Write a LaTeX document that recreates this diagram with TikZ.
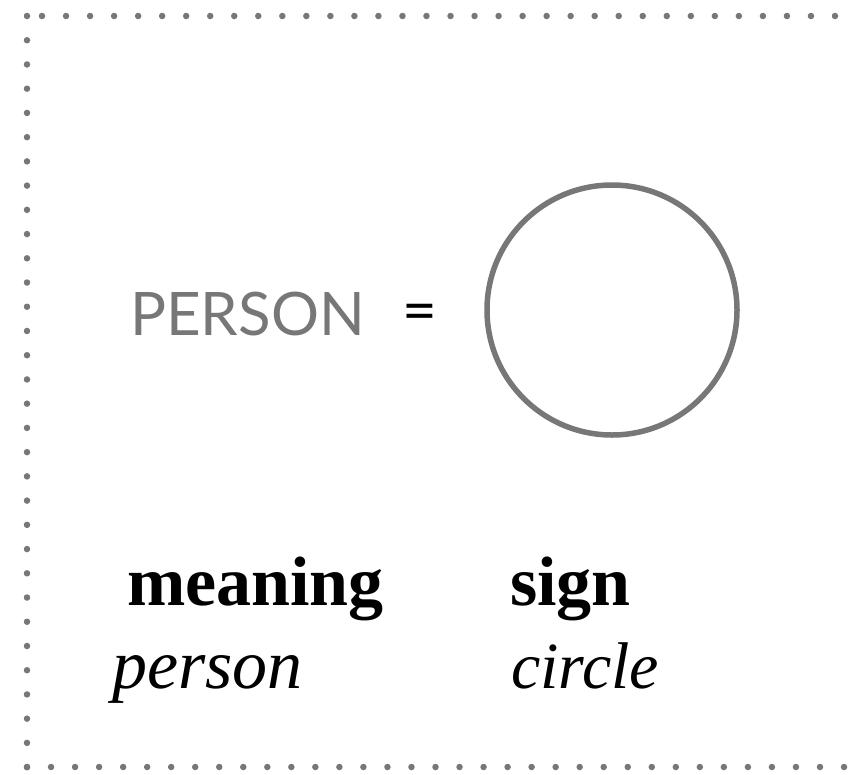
\documentclass[tikz,border=0pt]{standalone}
\usepackage{fontspec}
\setmainfont{Liberation Serif}
\newfontfamily\capsfont{Lato}
\usepackage{xcolor,tikz}
\usetikzlibrary{positioning,calc}
\definecolor{pgrey}{RGB}{119,119,119}
\tikzset{dots/.style={draw=pgrey,line width=6.5pt,line cap=round},
 sgn/.style={draw=pgrey,line width=5.5pt},
 caps/.style={inner sep=0,anchor=base west,font=\capsfont\fontsize{60}{70}\selectfont},
 head/.style={inner sep=0,anchor=base west,font=\bfseries\fontsize{70}{80}\selectfont},
 sub/.style={inner sep=0,anchor=base west,font=\itshape\fontsize{70}{80}\selectfont}}
\begin{document}
\begin{tikzpicture}[x=1pt,y=-1pt]
\useasboundingbox(0,0)rectangle(851,774);
% dotted frame, open on the right
\draw[dots,dash pattern=on 0pt off 24.03pt](835,16)--(41.5,16);
\draw[dots,dash pattern=on 0pt off 24.23pt](27,16)--(27,767.3);
\draw[dots,dash pattern=on 0pt off 24.03pt](27,767)--(844.5,767);
\node[caps,text=pgrey](word) at(130,335){PERSON};
\node[caps](eq) at(402,331){=};
\node[sgn,circle,minimum size=250pt,inner sep=0](sign) at(612,310){};
\node[head](mhead) at(127,605){meaning};
\node[head](shead) at(510,605){sign};
\node[sub](msub) at(112,688){person};
\node[sub](ssub) at(511,688){\fontsize{66}{80}\selectfont circle};
\end{tikzpicture}
\end{document}
